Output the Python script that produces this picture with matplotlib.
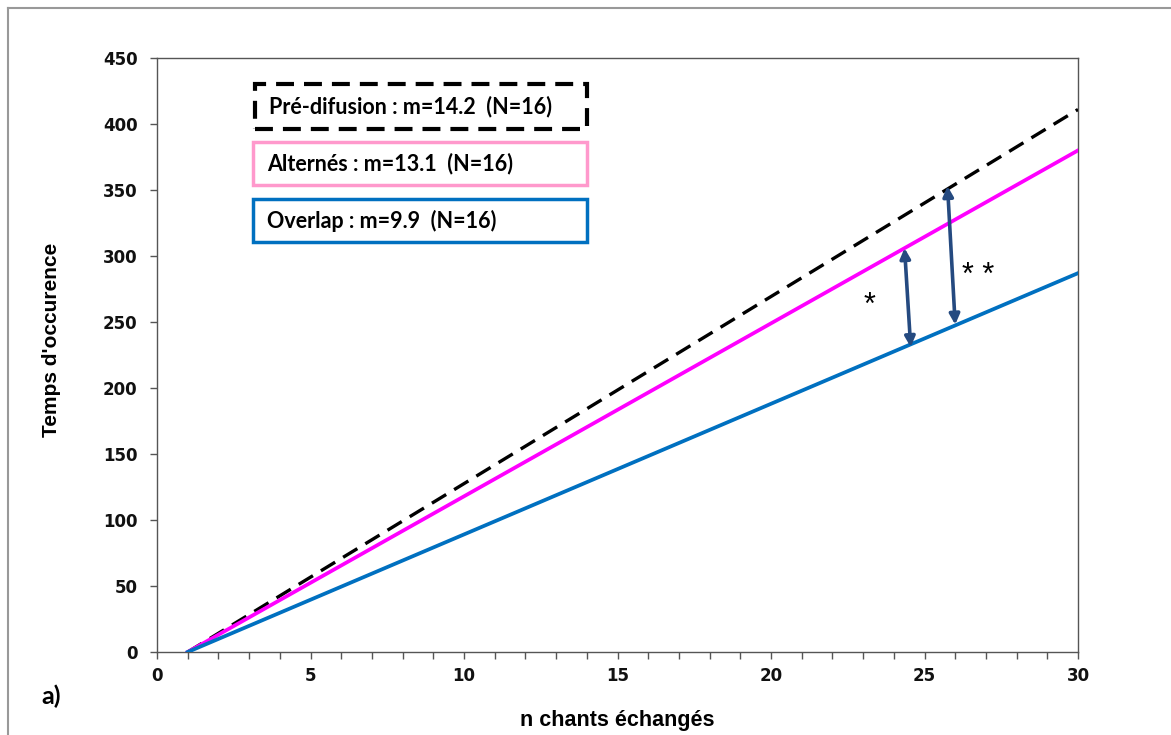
import matplotlib
matplotlib.use("Agg")
import matplotlib.pyplot as plt
from matplotlib.patches import Rectangle
from matplotlib.lines import Line2D

plt.rcParams["font.family"] = ["Liberation Sans", "DejaVu Sans"]

# ---- data ----
x_ends = [1, 30]
pre_y = [0, 411]
alt_y = [0, 380]
ovl_y = [0, 287]

legend_labels = ["Pré-difusion : m=14.2  (N=16)",
                 "Alternés : m=13.1  (N=16)",
                 "Overlap : m=9.9  (N=16)"]

# significance arrows: (x_top, y_top, x_bottom, y_bottom)
arrow_single = [24.35, 306, 24.55, 231]
arrow_double = [25.75, 353, 26.0, 248]
star_single = [23.2, 262]
star_double = [26.75, 285]

xticks = [0, 5, 10, 15, 20, 25, 30]
yticks = [0, 50, 100, 150, 200, 250, 300, 350, 400, 450]

W, H = 1171, 735
fig = plt.figure(figsize=(W / 100, H / 100), dpi=100)
ax = fig.add_axes([157 / W, 1 - 652 / H, (1078 - 157) / W, (652 - 58) / H])

ax.plot(x_ends, pre_y, color="black", lw=2.4, dashes=(5.0, 2.8), zorder=3)
ax.plot(x_ends, alt_y, color="#FF00FF", lw=2.7, zorder=4)
ax.plot(x_ends, ovl_y, color="#0070C0", lw=2.7, zorder=4)

ax.set_xlim(0, 30)
ax.set_ylim(0, 450)
ax.set_xticks(xticks)
ax.set_xticks(range(0, 31), minor=True)
ax.set_yticks(yticks)

for s in ax.spines.values():
    s.set_color("#555555")
    s.set_linewidth(1.0)

ax.tick_params(axis="both", which="major", direction="out", length=5, width=1,
               color="#555555", labelsize=12, labelcolor="#111111")
ax.tick_params(axis="y", which="major", pad=9)
ax.tick_params(axis="x", which="major", pad=6)
ax.tick_params(axis="x", which="minor", direction="out", length=5, width=1, color="#555555")
for lab in ax.get_xticklabels() + ax.get_yticklabels():
    lab.set_fontfamily("DejaVu Sans")
    lab.set_fontweight("bold")

ax.set_xlabel("n chants échangés", fontsize=15.5, fontweight="bold", labelpad=18)
fig.text(52 / W, 1 - 340 / H, "Temps d'occurence", rotation=90, fontsize=15,
         fontweight="bold", ha="center", va="center")

# legend boxes
box_specs = [
    (255, 84, 587, 129, "black", (0, (4.3, 2.4)), 3.0),
    (253, 142, 587, 185, "#FF99CC", "solid", 2.5),
    (253, 199, 587, 242, "#0070C0", "solid", 2.5),
]
for (x0, y0, x1, y1, col, ls, lw), lab in zip(box_specs, legend_labels):
    fx0, fy0 = x0 / W, 1 - y1 / H
    rect = Rectangle((fx0, fy0), (x1 - x0) / W, (y1 - y0) / H, transform=fig.transFigure,
                     fill=True, facecolor="white", edgecolor=col, linestyle=ls, lw=lw,
                     zorder=10)
    fig.add_artist(rect)
    fig.text((x0 + 14) / W, 1 - ((y0 + y1) / 2) / H, lab, fontsize=15.5, fontweight="bold",
             fontfamily="Lato", ha="left", va="center", zorder=11)

# arrows
arrow_col = "#254A80"
for a in (arrow_single, arrow_double):
    ax.annotate("", xy=(a[0], a[1]), xytext=(a[2], a[3]),
                arrowprops=dict(arrowstyle="<|-|>", color=arrow_col, lw=2.6,
                                mutation_scale=15, shrinkA=0, shrinkB=0), zorder=6)
ax.text(star_single[0], star_single[1], "*", fontsize=22, ha="center", va="center")
ax.text(star_double[0], star_double[1], "* *", fontsize=22, ha="center", va="center")

fig.text(51 / W, 1 - 696 / H, "a)", fontsize=18, fontweight="bold", fontfamily="Lato",
         ha="center", va="center")

# outer frame (left & top)
fig.add_artist(Line2D([8 / W, 8 / W], [0, 1 - 8 / H], transform=fig.transFigure,
                      color="#999999", lw=1.5))
fig.add_artist(Line2D([8 / W, 1], [1 - 8 / H, 1 - 8 / H], transform=fig.transFigure,
                      color="#999999", lw=1.5))

fig.savefig("out.png", dpi=100, facecolor="white")
